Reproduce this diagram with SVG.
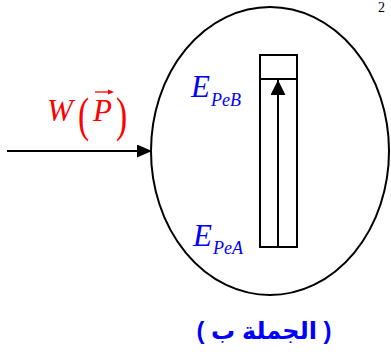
<svg xmlns="http://www.w3.org/2000/svg" width="391" height="360" viewBox="0 0 391 360">
<style>
.ln{fill:none;stroke:#000;stroke-width:2}
.lbl{font-family:"Liberation Serif",serif;font-style:italic;fill:#0000ff}
.red{font-family:"Liberation Serif",serif;fill:#ff0000}
</style>
<defs>
<marker id="ah" viewBox="0 0 15 13" refX="15" refY="6.5" markerWidth="15" markerHeight="13" markerUnits="userSpaceOnUse" orient="auto">
<path d="M0,0 L15,6.5 L0,13 Z" fill="#000"/>
</marker>
<marker id="ah2" viewBox="0 0 15 15" refX="15" refY="7.5" markerWidth="15" markerHeight="15" markerUnits="userSpaceOnUse" orient="auto">
<path d="M0,0 L15,7.5 L0,15 Z" fill="#000"/>
</marker>
</defs>
<rect width="391" height="360" fill="#fff"/>
<g id="system">
<ellipse cx="270" cy="151" rx="119" ry="144" class="ln"/>
</g>
<g id="bar">
<rect x="260" y="55" width="37" height="192" class="ln" stroke-width="1.8"/>
<line x1="260" y1="79" x2="297" y2="79" class="ln" stroke-width="1.8"/>
</g>
<g id="label-EPeB">
<text class="lbl" x="191" y="97" font-size="31">E</text>
<text class="lbl" x="211" y="106" font-size="18">PeB</text>
</g>
<g id="label-EPeA">
<text class="lbl" x="193" y="246" font-size="31">E</text>
<text class="lbl" x="213" y="254" font-size="18">PeA</text>
</g>
<g id="label-W">
<text class="red" x="47" y="121" font-size="31" font-style="italic">W</text>
<text class="red" x="78" y="131" font-size="48" transform="translate(78 131) scale(0.7 1) translate(-78 -131)">(</text>
<text class="red" x="93" y="121" font-size="31" font-style="italic">P</text>
<text class="red" x="116" y="131" font-size="48" transform="translate(116 131) scale(0.7 1) translate(-116 -131)">)</text>
<path d="M95,92 L110,92" stroke="#ff0000" stroke-width="1.3" fill="none"/>
<path d="M108,89.5 L114,92 L108,94.5 Z" fill="#ff0000"/>
</g>
<g id="caption">
<text x="264" y="339" font-size="24" font-weight="bold" fill="#0000ff" text-anchor="middle" direction="rtl" font-family="'Liberation Sans','Noto Sans','DejaVu Sans',sans-serif">( الجملة ب )</text>
</g>
<g id="corner">
<text x="378" y="12" font-size="14" font-family="'Liberation Serif',serif" fill="#000">2</text>
</g>
<g id="connectors">
<line x1="7" y1="151" x2="152" y2="151" class="ln" marker-end="url(#ah)"/>
<line x1="278" y1="247" x2="278" y2="80" class="ln" stroke-width="1.8" marker-end="url(#ah2)"/>
</g>
</svg>
